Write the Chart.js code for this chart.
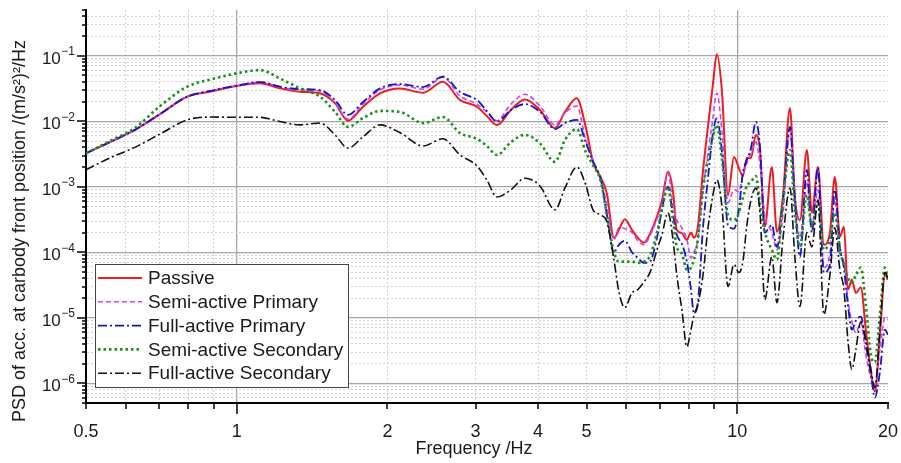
<!DOCTYPE html>
<html>
<head>
<meta charset="utf-8">
<title>PSD carbody front</title>
<script src="https://cdn.jsdelivr.net/npm/chart.js@4.4.1/dist/chart.umd.min.js"></script>
<style>
    html, body { margin: 0; padding: 0; background: #ffffff; }
    #grafico-psd { display: block; }
</style>
</head>
<body>
<canvas id="grafico-psd" width="901" height="463"></canvas>
<script>
// Frecuencias (Hz)
const frecuencias = [
    0.5, 0.558, 0.626, 0.703, 0.796, 0.893, 1.0, 1.113, 1.22, 1.338,
    1.467, 1.572, 1.668, 1.788, 1.933, 2.12, 2.356, 2.582, 2.793, 3.02,
    3.16, 3.31, 3.53, 3.765, 4.035, 4.323, 4.527, 4.78, 4.98, 5.15,
    5.34, 5.49, 5.67, 5.80, 5.96, 6.16, 6.33, 6.51, 6.69, 6.91,
    7.07, 7.27, 7.44, 7.57, 7.75, 7.93, 8.08, 8.19, 8.34, 8.54,
    8.74, 8.94, 9.10, 9.32, 9.58, 9.85, 10.07, 10.26, 10.45, 10.65,
    10.89, 11.10, 11.35, 11.72, 12.00, 12.33, 12.74, 13.03, 13.34, 13.77,
    14.09, 14.49, 14.89, 15.31, 15.66, 16.03, 16.33, 16.63, 16.94, 17.25,
    17.65, 18.06, 18.49, 18.83, 19.27, 19.72, 20.0
];

// PSD (m/s^2)^2/Hz por serie
const passive = [
    3.25e-3, 4.8e-3, 7.4e-3, 1.29e-2, 2.37e-2, 2.87e-2, 3.45e-2, 3.8e-2, 3.18e-2, 2.83e-2,
    2.67e-2, 1.88e-2, 1.02e-2, 1.67e-2, 2.67e-2, 3.16e-2, 2.73e-2, 4.0e-2, 2.11e-2, 1.67e-2,
    1.2e-2, 8.8e-3, 1.49e-2, 2.16e-2, 1.49e-2, 7.8e-3, 1.39e-2, 2.24e-2, 8.2e-3, 2.4e-3,
    1.37e-3, 7.8e-4, 1.66e-4, 2.2e-4, 3.2e-4, 2.2e-4, 1.66e-4, 1.4e-4, 1.9e-4, 3.5e-4,
    6.1e-4, 1.69e-3, 8.4e-4, 2.2e-4, 1.96e-4, 1.55e-4, 2.0e-4, 1.66e-4, 2.45e-4, 1.75e-3,
    8.5e-3, 3.7e-2, 0.106, 2.8e-2, 7.5e-4, 2.86e-3, 1.94e-3, 1.46e-3, 2.76e-3, 2.76e-3,
    6.2e-3, 3.65e-3, 2.47e-4, 2.0e-3, 2.05e-4, 6.8e-4, 1.58e-2, 7.1e-4, 3.1e-4, 3.65e-3,
    4.0e-4, 2.0e-3, 1.3e-4, 2.0e-4, 1.41e-3, 1.72e-4, 2.45e-4, 2.7e-5, 3.8e-5, 2.4e-5,
    2.9e-5, 6.6e-6, 1.5e-6, 7.5e-7, 5.5e-6, 4.5e-5, 3.8e-5
];
const semiPrimary = [
    3.25e-3, 4.8e-3, 7.4e-3, 1.29e-2, 2.37e-2, 2.95e-2, 3.5e-2, 3.97e-2, 3.33e-2, 3.0e-2,
    2.9e-2, 1.9e-2, 1.08e-2, 1.83e-2, 3.0e-2, 3.57e-2, 3.1e-2, 4.7e-2, 2.43e-2, 1.83e-2,
    1.39e-2, 1.02e-2, 1.83e-2, 2.58e-2, 1.71e-2, 8.8e-3, 1.34e-2, 1.71e-2, 5.2e-3, 2.57e-3,
    1.27e-3, 5.3e-4, 1.55e-4, 2.36e-4, 2.3e-4, 2.0e-4, 1.5e-4, 1.3e-4, 1.79e-4, 3.2e-4,
    5.3e-4, 1.63e-3, 5.1e-4, 3.1e-4, 2.36e-4, 1.55e-4, 8.2e-5, 1.0e-4, 1.55e-4, 9.0e-4,
    3.3e-3, 1.12e-2, 2.7e-2, 6.9e-3, 5.7e-4, 9.0e-4, 8.4e-4, 1.52e-3, 2.3e-3, 3.3e-3,
    4.8e-3, 2.15e-3, 3.6e-4, 2.05e-4, 1.09e-4, 3.7e-4, 7.4e-3, 6.3e-4, 1.66e-4, 1.19e-3,
    2.5e-4, 9.0e-4, 5.8e-5, 9.8e-5, 6.3e-4, 9.8e-5, 7.2e-5, 1.89e-5, 8.7e-6, 5.9e-6,
    8.4e-6, 2.7e-6, 1.22e-6, 9.5e-7, 3.3e-6, 1.0e-5, 9.4e-6
];
const fullPrimary = [
    3.25e-3, 4.8e-3, 7.4e-3, 1.29e-2, 2.37e-2, 2.95e-2, 3.5e-2, 3.97e-2, 3.37e-2, 3.1e-2,
    3.0e-2, 2.11e-2, 1.25e-2, 1.97e-2, 3.18e-2, 3.7e-2, 3.33e-2, 4.8e-2, 2.8e-2, 2.11e-2,
    1.44e-2, 9.9e-3, 1.49e-2, 1.83e-2, 1.39e-2, 7.6e-3, 9.4e-3, 1.05e-2, 4.8e-3, 2.4e-3,
    1.27e-3, 3.7e-4, 1.0e-4, 1.3e-4, 1.5e-4, 1.0e-4, 8.2e-5, 6.9e-5, 7.2e-5, 1.66e-4,
    4.45e-4, 1.0e-3, 3.7e-4, 1.85e-4, 1.35e-4, 7.2e-5, 2.7e-5, 1.19e-5, 1.7e-5, 2.36e-4,
    1.37e-3, 6.6e-3, 1.11e-2, 3.4e-3, 2.6e-4, 2.3e-4, 4.45e-4, 1.63e-3, 2.57e-3, 3.9e-3,
    9.8e-3, 4.05e-3, 2.0e-4, 2.6e-4, 1.21e-4, 5.9e-4, 8.2e-3, 6.3e-4, 8.5e-5, 1.81e-3,
    2.0e-4, 1.94e-3, 4.9e-5, 6.5e-5, 9.0e-4, 1.21e-4, 5.8e-5, 1.58e-5, 6.6e-6, 9.0e-6,
    1.04e-5, 3.9e-6, 1.36e-6, 6.05e-7, 1.5e-6, 6.6e-6, 5.5e-6
];
const semiSecondary = [
    3.25e-3, 5.0e-3, 7.9e-3, 1.71e-2, 3.37e-2, 4.4e-2, 5.4e-2, 6.05e-2, 4.5e-2, 3.18e-2,
    2.37e-2, 1.39e-2, 8.2e-3, 1.12e-2, 1.44e-2, 1.39e-2, 9.4e-3, 1.16e-2, 6.6e-3, 5.4e-3,
    4.2e-3, 3.06e-3, 4.8e-3, 6.2e-3, 4.6e-3, 2.4e-3, 5.2e-3, 7.6e-3, 3.4e-3, 2.15e-3,
    1.19e-3, 3.7e-4, 1.0e-4, 7.2e-5, 7.2e-5, 7.2e-5, 6.9e-5, 7.2e-5, 8.8e-5, 2.0e-4,
    4.45e-4, 1.0e-3, 3.1e-4, 1.21e-4, 9.5e-5, 5.4e-5, 5.8e-5, 7.7e-5, 1.55e-4, 9.0e-4,
    2.57e-3, 5.8e-3, 8.8e-3, 2.57e-3, 3.7e-4, 3.1e-4, 4.0e-4, 6.8e-4, 1.03e-3, 1.19e-3,
    1.46e-3, 5.3e-4, 2.05e-4, 1.09e-4, 7.7e-5, 5.9e-4, 3.65e-3, 4.0e-4, 1.21e-4, 7.5e-4,
    2.45e-4, 5.7e-4, 1.09e-4, 1.55e-4, 4.0e-4, 1.09e-4, 6.5e-5, 4.1e-5, 3.4e-5, 4.5e-5,
    5.8e-5, 1.58e-5, 2.7e-6, 2.1e-6, 1.1e-5, 5.8e-5, 3.8e-5
];
const fullSecondary = [
    1.81e-3, 2.76e-3, 4.0e-3, 6.4e-3, 1.05e-2, 1.16e-2, 1.15e-2, 1.15e-2, 9.9e-3, 8.8e-3,
    9.4e-3, 6.2e-3, 3.9e-3, 5.8e-3, 8.8e-3, 6.7e-3, 4.2e-3, 5.4e-3, 3.06e-3, 2.08e-3,
    1.27e-3, 7.0e-4, 9.0e-4, 1.35e-3, 1.03e-3, 4.45e-4, 9.6e-4, 2.0e-3, 1.07e-3, 4.45e-4,
    3.7e-4, 2.9e-4, 7.7e-5, 2.5e-5, 1.43e-5, 2.4e-5, 2.7e-5, 3.55e-5, 4.9e-5, 1.09e-4,
    1.85e-4, 4.0e-4, 1.55e-4, 4.5e-5, 1.33e-5, 3.6e-6, 6.6e-6, 1.08e-5, 1.58e-5, 4.5e-5,
    2.36e-4, 7.5e-4, 1.27e-3, 4.9e-4, 3.0e-5, 6.5e-5, 4.9e-5, 7.2e-5, 2.6e-4, 6.3e-4,
    9.6e-4, 4.0e-4, 1.89e-5, 8.5e-5, 1.7e-5, 1.55e-4, 9.6e-4, 8.5e-5, 1.48e-5, 2.0e-4,
    1.21e-4, 6.3e-4, 1.12e-5, 4.5e-5, 2.36e-4, 5.4e-5, 2.7e-5, 4.6e-6, 1.62e-6, 3.3e-6,
    8.7e-6, 4.6e-6, 1.62e-6, 8.6e-7, 6.6e-6, 4.9e-5, 4.1e-5
];

const nombresSeries = ['Passive', 'Semi-active Primary', 'Full-active Primary',
    'Semi-active Secondary', 'Full-active Secondary'];
const xEtiquetas = [0.5, 1, 2, 3, 4, 5, 10, 20];
const yEtiquetas = [1e-6, 1e-5, 1e-4, 1e-3, 1e-2, 1e-1];

const FUENTE = "'Liberation Sans', Arial, sans-serif";

function estaEn(lista, v) {
    return lista.some(e => Math.abs(e - v) / e < 1e-6);
}

// Ticks log con menores 2..9 en cada decada
function ticksLog(min, max) {
    const ticks = [];
    for (let d = -8; d <= 2; d++) {
        for (let k = 1; k <= 9; k++) {
            const v = k * Math.pow(10, d);
            if (v >= min * 0.9999 && v <= max * 1.0001) ticks.push({ value: v, major: k === 1 });
        }
    }
    return ticks;
}

function puntos(serie) {
    return frecuencias.map((f, i) => ({ x: f, y: serie[i] }));
}

// Marcas de los ejes hacia fuera (mayores mas largas) + etiquetas 10^n del eje y
const marcasEjes = {
    id: 'marcasEjes',
    afterDraw(chart) {
        const { ctx, chartArea, scales } = chart;
        ctx.save();
        ctx.strokeStyle = '#000';
        ctx.lineWidth = 1.5;
        scales.x.ticks.forEach(t => {
            const px = Math.round(scales.x.getPixelForValue(t.value));
            const largo = t.major ? 11 : 6;
            ctx.beginPath();
            ctx.moveTo(px, chartArea.bottom);
            ctx.lineTo(px, chartArea.bottom + largo);
            ctx.stroke();
        });
        scales.y.ticks.forEach(t => {
            const py = Math.round(scales.y.getPixelForValue(t.value));
            const largo = t.major ? 9 : 4;
            ctx.beginPath();
            ctx.moveTo(chartArea.left, py);
            ctx.lineTo(chartArea.left - largo, py);
            ctx.stroke();
        });

        // etiquetas con exponente en superindice
        ctx.fillStyle = '#1a1a1a';
        ctx.textBaseline = 'alphabetic';
        ctx.textAlign = 'left';
        yEtiquetas.forEach(v => {
            const py = scales.y.getPixelForValue(v);
            const exp = String(Math.round(Math.log10(v))).replace('-', '\u2212');
            ctx.font = '12px ' + FUENTE;
            const anchoExp = ctx.measureText(exp).width;
            const xFin = chartArea.left - 11;
            ctx.fillText(exp, xFin - anchoExp, py - 0.5);
            ctx.font = '17px ' + FUENTE;
            const anchoBase = ctx.measureText('10').width;
            ctx.fillText('10', xFin - anchoExp - anchoBase - 0.5, py + 8);
        });
        ctx.restore();
    }
};

// Titulos de ejes
const titulosEjes = {
    id: 'titulosEjes',
    afterDraw(chart) {
        const ctx = chart.ctx;
        ctx.save();
        ctx.fillStyle = '#1a1a1a';
        ctx.font = '18px ' + FUENTE;
        ctx.textAlign = 'center';
        ctx.textBaseline = 'middle';
        ctx.fillText('Frequency /Hz', 474, 449);
        ctx.translate(20, 231);
        ctx.rotate(-Math.PI / 2);
        ctx.fillText('PSD of acc. at carbody front position /(m/s\u00B2)\u00B2/Hz', 0, 0);
        ctx.restore();
    }
};

// Leyenda dentro del area del grafico
const leyendaInterior = {
    id: 'leyendaInterior',
    afterDraw(chart) {
        const ctx = chart.ctx;
        const area = chart.chartArea;
        const x0 = area.left + 9, y0 = area.top + 254, ancho = 253, alto = 123;
        ctx.save();
        ctx.fillStyle = '#ffffff';
        ctx.fillRect(x0, y0, ancho, alto);
        ctx.strokeStyle = '#444';
        ctx.lineWidth = 1;
        ctx.strokeRect(x0 + 0.5, y0 + 0.5, ancho, alto);
        ctx.font = '19px ' + FUENTE;
        ctx.textBaseline = 'middle';
        chart.data.datasets.forEach((ds, i) => {
            const y = y0 + 14 + i * 23.8;
            ctx.strokeStyle = ds.borderColor;
            ctx.lineWidth = ds.borderWidth;
            ctx.setLineDash(ds.borderDash || []);
            ctx.beginPath();
            ctx.moveTo(x0 + 3, y);
            ctx.lineTo(x0 + 47, y);
            ctx.stroke();
            ctx.setLineDash([]);
            ctx.fillStyle = '#1a1a1a';
            ctx.fillText(ds.label, x0 + 53, y + 1);
        });
        ctx.restore();
    }
};

const estilos = [
    { color: '#ec1c24', ancho: 2, trazo: [] },
    { color: '#cc44ee', ancho: 1.6, trazo: [5, 3] },
    { color: '#1414c8', ancho: 1.8, trazo: [9, 3, 2, 3] },
    { color: '#1c8f1c', ancho: 2.6, trazo: [2.5, 3] },
    { color: '#111111', ancho: 1.6, trazo: [9, 3, 2, 3] }
];
const series = [passive, semiPrimary, fullPrimary, semiSecondary, fullSecondary];

function colorGrid(c, bordeMin, bordeMax) {
    const t = c.tick;
    if (!t) return 'rgba(0,0,0,0)';
    if (t.value <= bordeMin * 1.0001 || t.value >= bordeMax * 0.9999) return 'rgba(0,0,0,0)';
    return t.major ? '#a6a6a6' : '#d2d2d2';
}

function crearGrafico() {
    const ctx = document.getElementById('grafico-psd');
    window.chartPsd = new Chart(ctx, {
        type: 'line',
        data: {
            datasets: series.map((s, i) => ({
                label: nombresSeries[i],
                data: puntos(s),
                borderColor: estilos[i].color,
                borderWidth: estilos[i].ancho,
                borderDash: estilos[i].trazo,
                pointRadius: 0,
                fill: false,
                cubicInterpolationMode: 'monotone',
                order: series.length - i
            }))
        },
        options: {
            responsive: false,
            animation: false,
            devicePixelRatio: 1,
            layout: { padding: { left: 0, right: 13, top: 10, bottom: 0 } },
            plugins: {
                legend: { display: false },
                tooltip: { enabled: false }
            },
            scales: {
                x: {
                    type: 'logarithmic',
                    min: 0.5,
                    max: 20,
                    afterBuildTicks: (scale) => { scale.ticks = ticksLog(0.5, 20); },
                    afterFit: (scale) => {
                        scale.height = 60;
                        scale.paddingLeft = 0;
                        scale.paddingRight = 0;
                    },
                    grid: {
                        drawTicks: false,
                        color: (c) => colorGrid(c, 0.5, 20),
                        lineWidth: (c) => (c.tick && c.tick.major) ? 1.3 : 1
                    },
                    border: {
                        display: true,
                        color: '#000',
                        width: 2,
                        dash: (c) => (c.tick && !c.tick.major) ? [2, 2] : []
                    },
                    ticks: {
                        autoSkip: false,
                        maxRotation: 0,
                        padding: 18,
                        color: '#1a1a1a',
                        font: { family: FUENTE, size: 18 },
                        callback: (val, i, ticks) => estaEn(xEtiquetas, ticks[i].value) ? String(+ticks[i].value.toPrecision(3)) : ''
                    }
                },
                y: {
                    type: 'logarithmic',
                    min: 5e-7,
                    max: 0.5,
                    afterBuildTicks: (scale) => { scale.ticks = ticksLog(5e-7, 0.5); },
                    afterFit: (scale) => {
                        scale.width = 86;
                        scale.paddingTop = 0;
                        scale.paddingBottom = 0;
                    },
                    grid: {
                        drawTicks: false,
                        color: (c) => colorGrid(c, 5e-7, 0.5),
                        lineWidth: (c) => (c.tick && c.tick.major) ? 1.3 : 1
                    },
                    border: {
                        display: true,
                        color: '#000',
                        width: 2,
                        dash: (c) => (c.tick && !c.tick.major) ? [2, 2] : []
                    },
                    ticks: {
                        autoSkip: false,
                        display: false
                    }
                }
            }
        },
        plugins: [marcasEjes, titulosEjes, leyendaInterior]
    });
}

document.addEventListener('DOMContentLoaded', function() {
    crearGrafico();
});
</script>
</body>
</html>
